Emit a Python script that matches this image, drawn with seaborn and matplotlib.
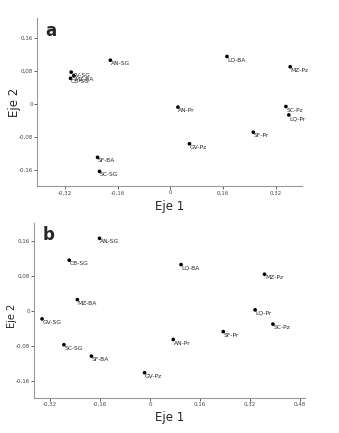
import matplotlib
matplotlib.use("Agg")
import matplotlib.pyplot as plt
import seaborn as sns
import pandas as pd

# Panel a data
names_a = ["AN-SG", "LQ-BA", "MZ-Pz", "GV-SG", "MZ-BA", "CB-SG", "AN-Pr", "SC-Pz",
           "LQ-Pr", "SF-Pr", "GV-Pz", "SF-BA", "SC-SG"]
x_a = [-0.182, 0.172, 0.364, -0.301, -0.293, -0.303, 0.023, 0.351, 0.360, 0.252, 0.058, -0.221, -0.215]
y_a = [0.106, 0.115, 0.090, 0.077, 0.068, 0.062, -0.008, -0.0065, -0.027, -0.069, -0.097, -0.130, -0.164]

# Panel b data
names_b = ["AN-SG", "CB-SG", "LQ-BA", "MZ-Pz", "MZ-BA", "LQ-Pr", "GV-SG", "SC-Pz",
           "SF-Pr", "AN-Pr", "SC-SG", "SF-BA", "GV-Pz"]
x_b = [-0.162, -0.259, 0.099, 0.366, -0.233, 0.336, -0.346, 0.393, 0.234, 0.074, -0.276, -0.188, -0.018]
y_b = [0.165, 0.115, 0.105, 0.083, 0.025, 0.0016, -0.019, -0.031, -0.048, -0.066, -0.078, -0.104, -0.142]

xticks_a = [-0.32, -0.16, 0, 0.16, 0.32]
xticks_b = [-0.32, -0.16, 0, 0.16, 0.32, 0.48]
yticks = [-0.16, -0.08, 0, 0.08, 0.16]


def fmt(v):
    if v == 0:
        return "0"
    return f"{v:.2f}".replace(".", ",")


sns.set_style("white")
plt.rcParams["font.family"] = ["DejaVu Sans"]

fig = plt.figure(figsize=(3.39, 4.33), dpi=100)
ax_a = fig.add_axes([0.109, 0.570, 0.782, 0.388])
ax_b = fig.add_axes([0.101, 0.0815, 0.799, 0.4035])

label_font = ["Liberation Sans Narrow", "DejaVu Sans"]


def panel(ax, names, xs, ys, xticks, xlim, ylim, letter, ylab_x, ylab_y, ylab_size):
    df = pd.DataFrame({"x": xs, "y": ys, "name": names})
    sns.scatterplot(data=df, x="x", y="y", ax=ax, color="black", s=7,
                    edgecolor="none", legend=False)
    for n, xv, yv in zip(names, xs, ys):
        ax.annotate(n, (xv, yv), xytext=(0.3, -0.8), textcoords="offset points",
                    ha="left", va="top", fontsize=4.3, family=label_font)
    ax.set_xlim(*xlim)
    ax.set_ylim(*ylim)
    ax.set_xticks(xticks)
    ax.set_xticklabels([fmt(v) for v in xticks], fontsize=4, family=label_font)
    ax.set_yticks(yticks)
    ax.set_yticklabels([fmt(v) for v in yticks], fontsize=4, family=label_font)
    ax.tick_params(axis="both", direction="out", length=2, width=0.6, pad=1,
                   colors="#444444", bottom=True, left=True)
    for s in ["top", "right"]:
        ax.spines[s].set_visible(False)
    for s in ["left", "bottom"]:
        ax.spines[s].set_color("#999999")
        ax.spines[s].set_linewidth(0.8)
    ax.set_xlabel("Eje 1", fontsize=8.5, labelpad=3)
    ax.set_ylabel("Eje 2", fontsize=ylab_size)
    ax.yaxis.set_label_coords(ylab_x, ylab_y)
    ax.text(0.03, 0.98, letter, transform=ax.transAxes, fontsize=12,
            fontweight="bold", ha="left", va="top")
    ax.grid(False)


panel(ax_a, names_a, x_a, y_a, xticks_a, (-0.405, 0.40), (-0.20, 0.208), "a",
      -0.06, 0.50, 8.5)
panel(ax_b, names_b, x_b, y_b, xticks_b, (-0.371, 0.496), (-0.199, 0.20), "b",
      -0.062, 0.47, 7)

fig.savefig("out.png", dpi=100)
